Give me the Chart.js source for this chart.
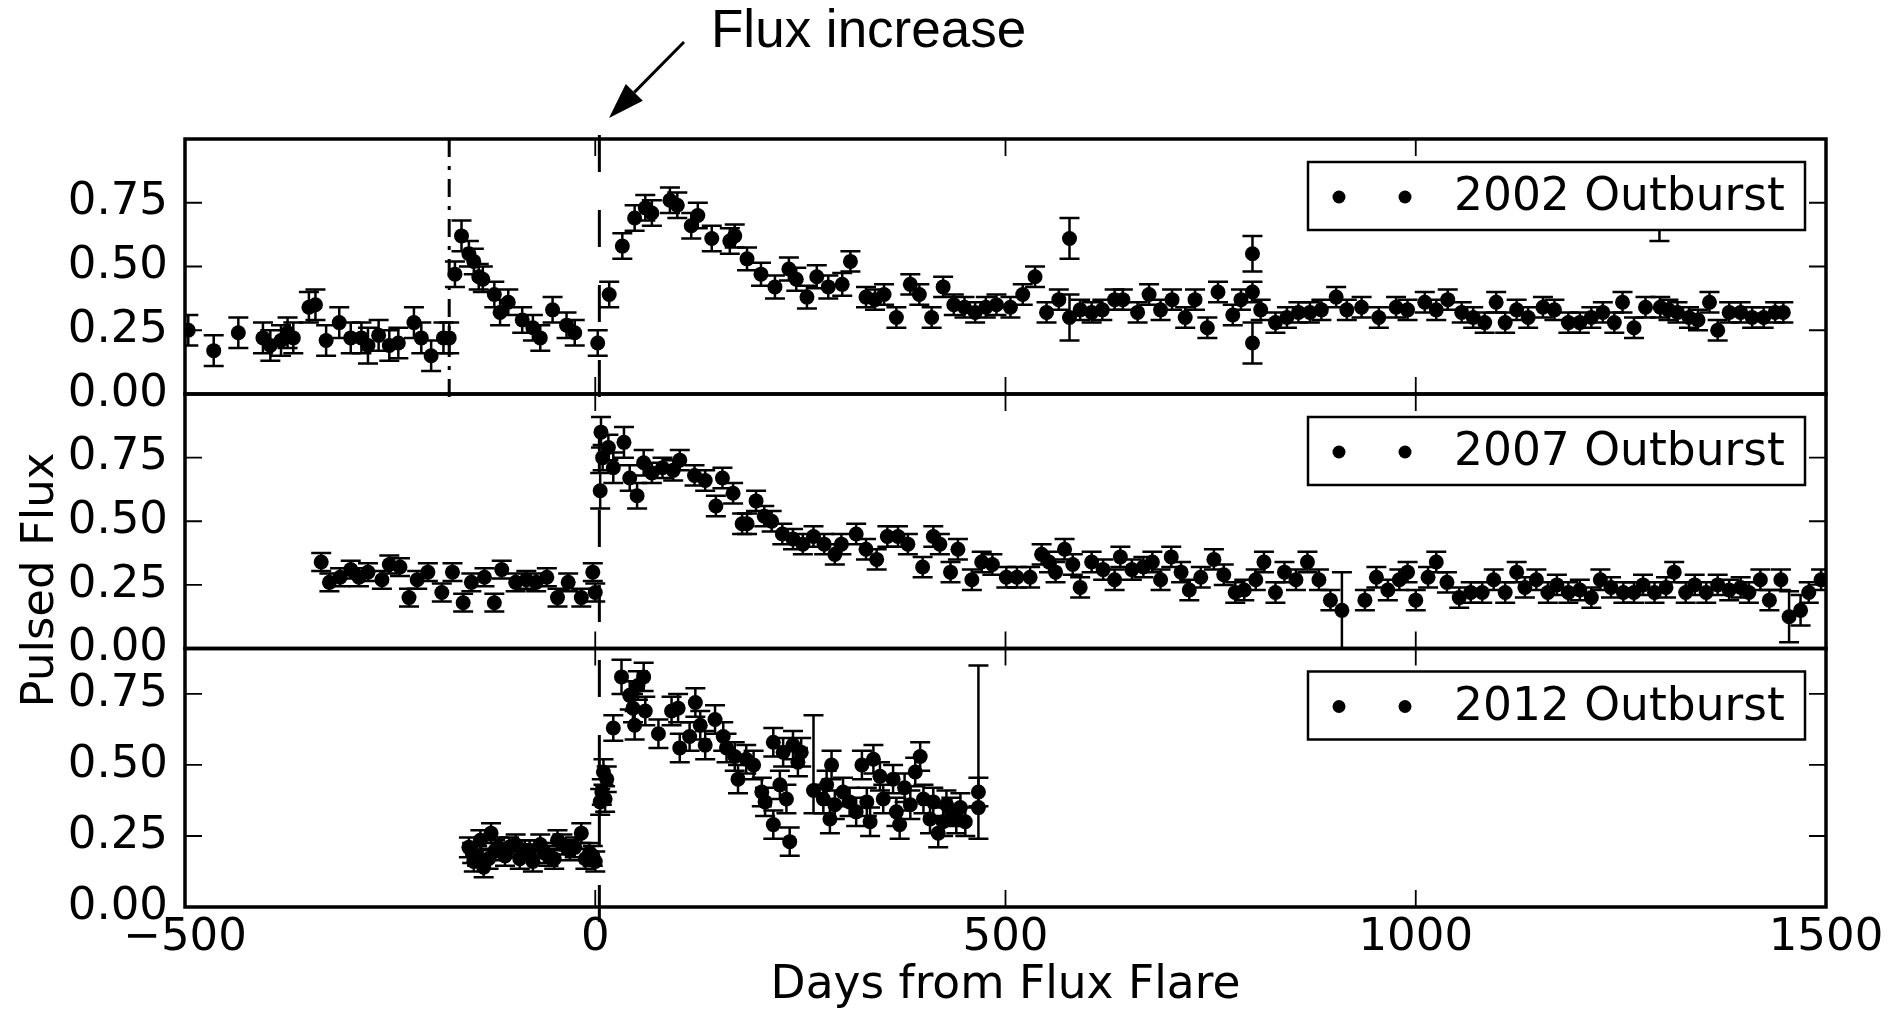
<!DOCTYPE html>
<html>
<head>
<meta charset="utf-8">
<script src="https://cdn.jsdelivr.net/npm/chart.js@4.4.1/dist/chart.umd.min.js"></script>
<style>
  body { margin: 0; background: #fff; }
  #wrap { width: 1900px; height: 1013px; }
</style>
</head>
<body>
<div id="wrap"><canvas id="flux" width="1900" height="1013"></canvas></div>
<script>
const outburstLabels = ["2002 Outburst", "2007 Outburst", "2012 Outburst"];
const xTicks = [-500, 0, 500, 1000, 1500];
const flareDay = 5;
const preFlareDay = -178;

const days2002 = [
  -496,-465,-435,-405,-396,-383,-375,-368,-349,-341,
  -328,-312,-298,-285,-277,-264,-251,-240,-221,-212,
  -200,-185,-178,-171,-163,-154,-148,-142,-137,-123,
  -116,-106,-89,-76,-67,-52,-35,-25,3,17,
  33,48,61,69,91,100,117,125,142,164,
  170,185,202,219,236,245,258,270,284,301,
  311,330,341,352,367,384,395,410,424,437,
  450,463,476,489,506,521,536,550,565,578,
  578,591,605,618,633,643,661,675,689,703,
  719,731,746,759,777,787,801,801,801,811,
  829,843,857,871,885,903,916,934,955,976,
  990,1011,1025,1039,1056,1070,1084,1098,1109,1123,
  1137,1155,1169,1186,1200,1214,1228,1242,1252,1266,
  1280,1297,1298,1308,1319,1333,1344,1358,1368,1382,
  1396,1410,1424,1438,1448
];
const flux2002 = [
  0.25,0.17,0.24,0.22,0.19,0.21,0.24,0.22,0.34,0.35,
  0.21,0.28,0.22,0.22,0.19,0.23,0.19,0.20,0.28,0.22,
  0.15,0.22,0.22,0.47,0.62,0.55,0.52,0.46,0.45,0.39,
  0.32,0.36,0.29,0.26,0.22,0.33,0.27,0.24,0.20,0.39,
  0.58,0.69,0.73,0.71,0.76,0.74,0.66,0.70,0.61,0.60,
  0.62,0.53,0.47,0.42,0.49,0.45,0.38,0.46,0.42,0.43,
  0.52,0.38,0.37,0.39,0.30,0.43,0.39,0.30,0.42,0.35,
  0.34,0.32,0.34,0.35,0.34,0.39,0.46,0.32,0.37,0.61,
  0.30,0.33,0.32,0.33,0.37,0.37,0.32,0.39,0.33,0.37,
  0.30,0.37,0.26,0.40,0.31,0.37,0.55,0.40,0.20,0.33,
  0.28,0.30,0.32,0.32,0.33,0.38,0.33,0.34,0.30,0.34,
  0.33,0.36,0.33,0.37,0.32,0.30,0.28,0.36,0.28,0.33,
  0.30,0.34,0.33,0.28,0.28,0.30,0.32,0.28,0.36,0.26,
  0.34,0.68,0.34,0.33,0.32,0.30,0.29,0.36,0.25,0.32,
  0.32,0.30,0.30,0.32,0.32
];
const err2002 = [
  0.06,0.06,0.06,0.06,0.06,0.06,0.06,0.06,0.06,0.06,
  0.06,0.06,0.06,0.06,0.07,0.06,0.06,0.06,0.06,0.06,
  0.06,0.06,0.06,0.05,0.06,0.05,0.05,0.05,0.05,0.05,
  0.05,0.05,0.05,0.05,0.05,0.05,0.05,0.05,0.05,0.05,
  0.05,0.05,0.05,0.05,0.05,0.05,0.05,0.05,0.05,0.05,
  0.045,0.045,0.045,0.045,0.045,0.045,0.045,0.045,0.045,0.045,
  0.04,0.04,0.04,0.04,0.04,0.04,0.04,0.04,0.04,0.04,
  0.04,0.04,0.04,0.04,0.04,0.04,0.04,0.04,0.04,0.08,
  0.09,0.04,0.04,0.04,0.04,0.04,0.04,0.04,0.04,0.04,
  0.04,0.04,0.04,0.04,0.04,0.04,0.07,0.04,0.08,0.04,
  0.04,0.04,0.04,0.04,0.04,0.04,0.04,0.04,0.04,0.04,
  0.04,0.04,0.04,0.04,0.04,0.04,0.04,0.04,0.04,0.04,
  0.04,0.04,0.04,0.04,0.04,0.04,0.04,0.04,0.04,0.04,
  0.04,0.08,0.04,0.04,0.04,0.04,0.04,0.04,0.04,0.04,
  0.04,0.04,0.04,0.04,0.04
];

const days2007 = [
  -334,-324,-311,-298,-288,-277,-260,-251,-238,-227,
  -217,-204,-187,-174,-161,-151,-135,-123,-114,-97,
  -84,-72,-59,-46,-33,-17,-3,0,6,7,
  9,16,22,35,42,51,59,69,82,95,
  103,121,134,147,155,168,179,185,196,206,
  215,228,241,253,266,279,292,300,318,330,
  343,356,369,381,399,412,420,433,442,459,
  471,484,501,514,530,544,553,561,572,582,
  591,605,619,633,640,654,668,679,689,702,
  714,724,738,754,766,780,791,805,815,829,
  840,854,868,882,896,910,938,952,966,980,
  990,1000,1015,1025,1038,1053,1067,1081,1095,1109,
  1123,1133,1147,1161,1172,1186,1200,1214,1225,1238,
  1253,1266,1277,1291,1305,1315,1329,1340,1354,1368,
  1382,1396,1406,1420,1431,1445,1455,1469,1479,1494
];
const flux2007 = [
  0.34,0.26,0.28,0.31,0.28,0.30,0.27,0.33,0.32,0.20,
  0.27,0.30,0.22,0.30,0.18,0.26,0.28,0.18,0.31,0.26,
  0.27,0.26,0.28,0.20,0.26,0.20,0.30,0.22,0.62,0.85,
  0.75,0.79,0.71,0.81,0.67,0.60,0.73,0.69,0.71,0.70,
  0.74,0.68,0.66,0.56,0.67,0.61,0.49,0.49,0.58,0.52,
  0.50,0.45,0.43,0.41,0.44,0.41,0.37,0.41,0.45,0.39,
  0.35,0.44,0.44,0.41,0.32,0.44,0.41,0.30,0.39,0.27,
  0.34,0.33,0.28,0.28,0.28,0.37,0.34,0.30,0.39,0.33,
  0.24,0.34,0.31,0.27,0.36,0.31,0.32,0.34,0.27,0.36,
  0.30,0.23,0.28,0.35,0.29,0.22,0.23,0.27,0.34,0.22,
  0.30,0.27,0.34,0.27,0.19,0.15,0.19,0.28,0.23,0.27,
  0.30,0.19,0.28,0.34,0.26,0.20,0.22,0.22,0.27,0.22,
  0.30,0.24,0.27,0.22,0.25,0.22,0.23,0.20,0.27,0.24,
  0.22,0.22,0.25,0.22,0.24,0.30,0.22,0.25,0.22,0.25,
  0.23,0.24,0.22,0.27,0.19,0.27,0.125,0.15,0.22,0.27
];
const err2007 = [
  0.035,0.035,0.035,0.035,0.035,0.035,0.035,0.035,0.035,0.035,
  0.035,0.035,0.035,0.035,0.035,0.035,0.035,0.035,0.035,0.035,
  0.035,0.035,0.035,0.035,0.035,0.035,0.035,0.035,0.07,0.06,
  0.05,0.05,0.06,0.06,0.05,0.05,0.05,0.04,0.04,0.04,
  0.04,0.04,0.04,0.04,0.04,0.04,0.04,0.04,0.04,0.04,
  0.04,0.04,0.04,0.04,0.04,0.04,0.04,0.04,0.04,0.04,
  0.04,0.04,0.04,0.04,0.04,0.04,0.04,0.04,0.04,0.04,
  0.04,0.04,0.04,0.04,0.04,0.04,0.04,0.04,0.04,0.04,
  0.04,0.04,0.04,0.04,0.04,0.04,0.04,0.04,0.04,0.04,
  0.04,0.04,0.04,0.04,0.04,0.04,0.04,0.04,0.04,0.04,
  0.04,0.04,0.04,0.04,0.04,0.15,0.04,0.04,0.04,0.04,
  0.04,0.04,0.04,0.04,0.04,0.04,0.04,0.04,0.04,0.04,
  0.04,0.04,0.04,0.04,0.04,0.04,0.04,0.04,0.04,0.04,
  0.04,0.04,0.04,0.04,0.04,0.04,0.04,0.04,0.04,0.04,
  0.04,0.04,0.04,0.04,0.04,0.04,0.10,0.06,0.04,0.04
];

const days2012 = [
  -154,-150,-148,-144,-140,-136,-130,-127,-122,-118,
  -110,-105,-97,-92,-86,-80,-76,-67,-62,-57,
  -50,-46,-40,-31,-25,-17,-12,-7,-3,0,
  6,8,10,12,14,22,32,42,46,48,
  52,59,61,77,93,101,103,115,122,128,
  134,146,156,160,170,174,184,193,203,207,
  217,217,225,229,233,237,241,247,251,266,
  278,282,286,288,292,302,310,318,325,331,
  335,339,347,351,363,367,371,377,384,390,
  396,400,408,412,418,424,428,434,440,445,
  451,467,467
];
const flux2012 = [
  0.21,0.19,0.16,0.18,0.235,0.14,0.17,0.26,0.20,0.21,
  0.18,0.21,0.22,0.17,0.20,0.20,0.16,0.22,0.19,0.18,
  0.17,0.235,0.22,0.20,0.21,0.26,0.17,0.19,0.18,0.16,
  0.37,0.405,0.475,0.38,0.45,0.63,0.81,0.745,0.70,0.64,
  0.78,0.81,0.69,0.61,0.69,0.70,0.56,0.60,0.72,0.64,
  0.57,0.66,0.60,0.56,0.53,0.45,0.52,0.50,0.405,0.37,
  0.58,0.29,0.43,0.545,0.38,0.23,0.57,0.51,0.545,0.41,
  0.38,0.43,0.31,0.50,0.36,0.405,0.37,0.335,0.50,0.37,
  0.30,0.52,0.46,0.38,0.45,0.335,0.29,0.42,0.36,0.475,
  0.53,0.38,0.31,0.37,0.26,0.30,0.36,0.335,0.31,0.35,
  0.30,0.405,0.35
];
// a pair means [below, above]
const err2012 = [
  0.035,0.035,0.035,0.035,0.035,0.035,0.035,0.035,0.035,0.035,
  0.035,0.035,0.035,0.035,0.035,0.035,0.035,0.035,0.035,0.035,
  0.035,0.035,0.035,0.035,0.035,0.035,0.035,0.035,0.035,0.035,
  0.045,0.045,0.045,0.045,0.045,0.045,0.06,0.05,0.05,0.05,
  0.05,0.05,0.05,0.05,0.05,0.05,0.05,0.05,0.05,0.05,
  0.05,0.05,0.05,0.05,0.05,0.05,0.05,0.05,0.05,0.05,
  0.05,0.05,0.05,0.05,0.05,0.05,0.05,0.05,0.05,[0.08,0.265],
  0.05,0.05,0.05,0.05,0.05,0.05,0.05,0.05,0.05,0.05,
  0.05,0.05,0.05,0.05,0.05,0.05,0.05,0.05,0.05,0.05,
  0.05,0.05,0.05,0.05,0.05,0.05,0.05,0.05,0.05,0.05,
  0.05,0.05,[0.11,0.5]
];

function toPoints(xs, ys) {
  return xs.map((x, i) => ({ x: x, y: ys[i] }));
}

const FONT = "DejaVu Sans";
const panelAxes = ["y1", "y2", "y3"];

const panelDecor = {
  id: "panelDecor",
  beforeDatasetsDraw(chart) {
    const ctx = chart.ctx;
    const xs = chart.scales.x;
    chart.data.datasets.forEach((ds) => {
      const ys = chart.scales[ds.yAxisID];
      ctx.save();
      ctx.beginPath();
      ctx.rect(xs.left, ys.top, xs.right - xs.left, ys.bottom - ys.top);
      ctx.clip();
      ctx.strokeStyle = "#000";
      ctx.lineWidth = 2.5;
      ds.data.forEach((p, j) => {
        const e = ds.errors[j];
        const lo = Array.isArray(e) ? e[0] : e;
        const hi = Array.isArray(e) ? e[1] : e;
        const px = xs.getPixelForValue(p.x);
        const top = ys.getPixelForValue(p.y + hi);
        const bot = ys.getPixelForValue(p.y - lo);
        ctx.beginPath();
        ctx.moveTo(px, top); ctx.lineTo(px, bot);
        ctx.moveTo(px - 10, top); ctx.lineTo(px + 10, top);
        ctx.moveTo(px - 10, bot); ctx.lineTo(px + 10, bot);
        ctx.stroke();
      });
      ctx.restore();
    });
  },
  afterDatasetsDraw(chart) {
    const ctx = chart.ctx;
    const xs = chart.scales.x;
    ctx.save();
    ctx.strokeStyle = "#000";
    ctx.fillStyle = "#000";

    // vertical marker lines
    const y1 = chart.scales.y1, y3 = chart.scales.y3;
    ctx.lineWidth = 3;
    ctx.setLineDash([18, 9, 4, 9]);
    let px = xs.getPixelForValue(preFlareDay);
    ctx.beginPath(); ctx.moveTo(px, y1.top); ctx.lineTo(px, y1.bottom + 4); ctx.stroke();
    ctx.setLineDash([37, 38]);
    px = xs.getPixelForValue(flareDay);
    ctx.beginPath(); ctx.moveTo(px, y1.top - 4); ctx.lineTo(px, y3.bottom + 20); ctx.stroke();
    ctx.setLineDash([]);

    panelAxes.forEach((id, i) => {
      const ys = chart.scales[id];
      // frame
      ctx.lineWidth = 3.5;
      ctx.strokeRect(xs.left, ys.top, xs.right - xs.left, ys.bottom - ys.top);
      // inward ticks
      ctx.lineWidth = 1.8;
      ctx.beginPath();
      xs.ticks.forEach((t) => {
        if (t.value <= xs.min || t.value >= xs.max) return;
        const x = xs.getPixelForValue(t.value);
        ctx.moveTo(x, ys.bottom); ctx.lineTo(x, ys.bottom - 17);
        ctx.moveTo(x, ys.top); ctx.lineTo(x, ys.top + 17);
      });
      ys.ticks.forEach((t) => {
        if (t.value <= ys.min || t.value >= ys.max) return;
        const y = ys.getPixelForValue(t.value);
        ctx.moveTo(xs.left, y); ctx.lineTo(xs.left + 17, y);
        ctx.moveTo(xs.right, y); ctx.lineTo(xs.right - 17, y);
      });
      ctx.stroke();

      // legend box
      const bw = 497, bh = 68;
      const bx = xs.right - 21 - bw, by = ys.top + 23;
      ctx.fillStyle = "#fff";
      ctx.fillRect(bx, by, bw, bh);
      ctx.lineWidth = 2.5;
      ctx.strokeRect(bx, by, bw, bh);
      ctx.fillStyle = "#000";
      [31, 97].forEach((dx) => {
        ctx.beginPath(); ctx.arc(bx + dx, by + 35, 6.5, 0, Math.PI * 2); ctx.fill();
      });
      ctx.font = "45.5px '" + FONT + "'";
      ctx.textAlign = "left";
      ctx.textBaseline = "alphabetic";
      ctx.fillText(chart.data.datasets[i].label, bx + 146, by + 48);
    });

    // annotation arrow
    const tail = [684, 42], tip = [609, 118];
    const dx = tip[0] - tail[0], dy = tip[1] - tail[1];
    const len = Math.hypot(dx, dy), ux = dx / len, uy = dy / len;
    const bxh = tip[0] - ux * 36, byh = tip[1] - uy * 36;
    ctx.lineWidth = 3;
    ctx.beginPath(); ctx.moveTo(tail[0], tail[1]); ctx.lineTo(bxh, byh); ctx.stroke();
    ctx.beginPath();
    ctx.moveTo(tip[0], tip[1]);
    ctx.lineTo(bxh - uy * 12, byh + ux * 12);
    ctx.lineTo(bxh + uy * 12, byh - ux * 12);
    ctx.closePath(); ctx.fill();
    ctx.font = "53px 'Liberation Sans'";
    ctx.textAlign = "left";
    ctx.fillText("Flux increase", 711, 47);

    // shared y title
    ctx.translate(53, 580);
    ctx.rotate(-Math.PI / 2);
    ctx.font = "45px '" + FONT + "'";
    ctx.textAlign = "center";
    ctx.fillText("Pulsed Flux", 0, 0);
    ctx.restore();
  }
};

function yAxis(max, stackWeight, weight) {
  return {
    type: "linear",
    position: "left",
    stack: "panels",
    stackWeight: stackWeight,
    weight: weight,
    min: 0,
    max: max,
    grid: { display: false, drawTicks: false },
    border: { display: false },
    ticks: {
      stepSize: 0.25,
      includeBounds: false,
      autoSkip: false,
      padding: 17,
      color: "#000",
      font: { family: FONT, size: 45 },
      callback: (v) => (v >= 0.999 ? "" : Number(v).toFixed(2))
    },
    afterFit: (scale) => { scale.width = 185; }
  };
}

const chart = new Chart(document.getElementById("flux"), {
  type: "scatter",
  data: {
    datasets: [
      { label: outburstLabels[0], data: toPoints(days2002, flux2002), errors: err2002, yAxisID: "y1" },
      { label: outburstLabels[1], data: toPoints(days2007, flux2007), errors: err2007, yAxisID: "y2" },
      { label: outburstLabels[2], data: toPoints(days2012, flux2012), errors: err2012, yAxisID: "y3" }
    ].map((ds) => Object.assign(ds, {
      pointRadius: 7.5,
      pointBackgroundColor: "#000",
      pointBorderWidth: 0,
      showLine: false
    }))
  },
  options: {
    responsive: false,
    animation: false,
    events: [],
    devicePixelRatio: 1,
    layout: { padding: { top: 139, right: 74, left: 0, bottom: 0 } },
    plugins: { legend: { display: false }, tooltip: { enabled: false } },
    scales: {
      x: {
        type: "linear",
        position: "bottom",
        min: xTicks[0],
        max: xTicks[xTicks.length - 1],
        grid: { display: false, drawTicks: false },
        border: { display: false },
        afterBuildTicks: (scale) => { scale.ticks = xTicks.map((v) => ({ value: v })); },
        ticks: {
          autoSkip: false,
          maxRotation: 0,
          padding: 4,
          color: "#000",
          font: { family: FONT, size: 45 },
          callback: (v) => (v < 0 ? "\u2212" + Math.abs(v) : String(v))
        },
        title: {
          display: true,
          text: "Days from Flux Flare",
          color: "#000",
          font: { family: FONT, size: 45.5 },
          padding: 0
        },
        afterFit: (scale) => { scale.height = 106; }
      },
      y1: yAxis(1, 255, 3),
      y2: yAxis(1, 254.5, 2),
      y3: yAxis(0.91, 258.5, 1)
    }
  },
  plugins: [panelDecor]
});
</script>
</body>
</html>
